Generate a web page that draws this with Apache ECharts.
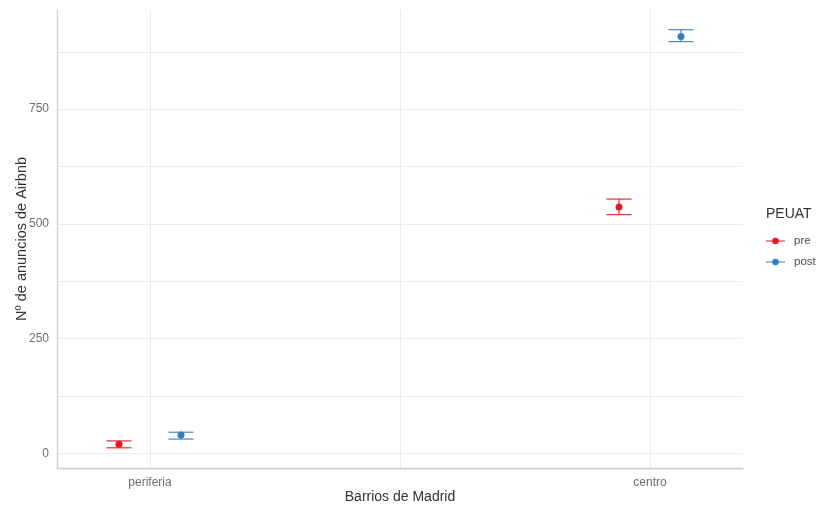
<!DOCTYPE html>
<html>
<head>
<meta charset="utf-8">
<script src="https://cdn.jsdelivr.net/npm/echarts@6/dist/echarts.min.js"></script>
<style>html,body{margin:0;padding:0;background:#fff;}#c{width:823px;height:509px;}</style>
</head>
<body>
<div id="c"></div>
<script>
// ---- data ----
var categories = ['periferia', 'centro'];
var groups = ['pre', 'post'];
var preMean = [20, 537];
var preLow = [12, 520];
var preHigh = [27, 554];
var postMean = [40, 908];
var postLow = [31, 897];
var postHigh = [46, 923];
var yTickLabels = [0, 250, 500, 750];
var yGridValues = [0, 125, 250, 375, 500, 625, 750, 875];

var colors = { pre: '#E41A1C', post: '#377EB8' };
var dodge = { pre: -0.062, post: 0.062 };
var capHalf = 0.025;
var FONT = '"Liberation Sans", Arial, sans-serif';

function buildData(mean, low, high, g) {
  return categories.map(function (c, i) {
    return [i + 1 + dodge[g], mean[i], low[i], high[i]];
  });
}

function renderItem(params, api) {
  var x = api.value(0), m = api.value(1), lo = api.value(2), hi = api.value(3);
  var color = api.visual('color');
  var pLo = api.coord([x, lo]), pHi = api.coord([x, hi]), pM = api.coord([x, m]);
  var l1 = api.coord([x - capHalf, lo]), r1 = api.coord([x + capHalf, lo]);
  var l2 = api.coord([x - capHalf, hi]), r2 = api.coord([x + capHalf, hi]);
  var ls = { stroke: color, lineWidth: 1.1 };
  return {
    type: 'group',
    children: [
      { type: 'line', shape: { x1: pLo[0], y1: pLo[1], x2: pHi[0], y2: pHi[1] }, style: ls },
      { type: 'line', shape: { x1: l1[0], y1: l1[1], x2: r1[0], y2: r1[1] }, style: ls },
      { type: 'line', shape: { x1: l2[0], y1: l2[1], x2: r2[0], y2: r2[1] }, style: ls },
      { type: 'circle', shape: { cx: pM[0], cy: pM[1], r: 3.5 }, style: { fill: color } }
    ]
  };
}

var legendIcon = 'path://M0,4.4 L20,4.4 L20,5.6 L0,5.6 Z M13.5,5 A3.5,3.5 0 1 1 6.5,5 A3.5,3.5 0 1 1 13.5,5 Z';

var chart = echarts.init(document.getElementById('c'));
chart.setOption({
  backgroundColor: '#ffffff',
  animation: false,
  textStyle: { fontFamily: FONT },
  grid: { left: 57, right: 80, top: 10, bottom: 41, containLabel: false, outerBoundsMode: 'none' },
  title: {
    text: 'PEUAT', left: 761, top: 202,
    textStyle: { fontFamily: FONT, fontSize: 14, fontWeight: 'normal', color: '#333333' }
  },
  legend: {
    orient: 'vertical', left: 766, top: 235, itemGap: 9, padding: 0,
    itemWidth: 19, itemHeight: 10,
    textStyle: { fontFamily: FONT, fontSize: 11.5, color: '#4D4D4D', padding: [0, 0, 0, 4] },
    data: groups.map(function (g) { return { name: g, icon: legendIcon, itemStyle: { color: colors[g] } }; })
  },
  xAxis: {
    type: 'value', min: 0.814, max: 2.186,
    name: 'Barrios de Madrid', nameLocation: 'middle', nameGap: 22, nameMoveOverlap: false,
    nameTextStyle: { fontFamily: FONT, fontSize: 14, color: '#333333' },
    axisLine: { show: true, onZero: false, lineStyle: { color: '#CCCCCC', width: 1.3 } },
    axisTick: { show: false, customValues: [1, 1.5, 2] },
    axisLabel: {
      customValues: [1, 2], margin: 9,
      fontFamily: FONT, fontSize: 12, color: '#6E6E6E',
      formatter: function (v) { return categories[Math.round(v) - 1] || ''; }
    },
    splitLine: { show: true, lineStyle: { color: '#EBEBEB', width: 1 } }
  },
  yAxis: {
    type: 'value', min: -32, max: 966,
    name: 'Nº de anuncios de Airbnb', nameLocation: 'middle', nameGap: 28, nameRotate: 90, nameMoveOverlap: false,
    nameTextStyle: { fontFamily: FONT, fontSize: 14.5, color: '#333333' },
    axisLine: { show: true, onZero: false, lineStyle: { color: '#CCCCCC', width: 1.3 } },
    axisTick: { show: false, customValues: yGridValues },
    axisLabel: {
      customValues: yTickLabels, margin: 8,
      fontFamily: FONT, fontSize: 12, color: '#6E6E6E'
    },
    splitLine: { show: true, lineStyle: { color: '#EBEBEB', width: 1 } }
  },
  series: [
    { name: 'pre', type: 'custom', renderItem: renderItem, itemStyle: { color: colors.pre },
      encode: { x: 0, y: [1, 2, 3] }, data: buildData(preMean, preLow, preHigh, 'pre') },
    { name: 'post', type: 'custom', renderItem: renderItem, itemStyle: { color: colors.post },
      encode: { x: 0, y: [1, 2, 3] }, data: buildData(postMean, postLow, postHigh, 'post') }
  ]
});
</script>
</body>
</html>
